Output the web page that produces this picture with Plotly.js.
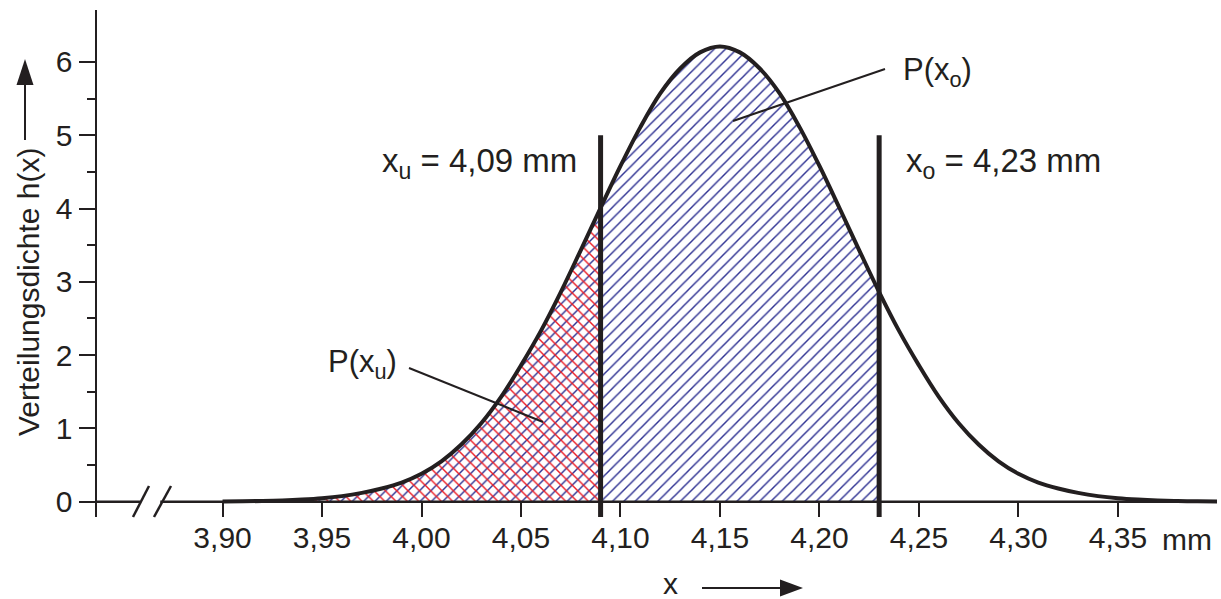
<!DOCTYPE html>
<html><head><meta charset="utf-8">
<script src="https://cdn.plot.ly/plotly-3.0.1.min.js"></script>
<style>html,body{margin:0;padding:0;background:#fff}#chart{width:1221px;height:599px}</style>
</head><body><div id="chart"></div>
<script>
// ---- data ----
const xValues = [3.90,3.91,3.92,3.93,3.94,3.95,3.96,3.97,3.98,3.99,
  4.00,4.01,4.02,4.03,4.04,4.05,4.06,4.07,4.08,4.09,
  4.10,4.11,4.12,4.13,4.14,4.15,4.16,4.17,4.18,4.19,
  4.20,4.21,4.22,4.23,4.24,4.25,4.26,4.27,4.28,4.29,
  4.30,4.31,4.32,4.33,4.34,4.35,4.36,4.37,4.38,4.39,4.40];
const hValues = [0.003,0.005,0.010,0.017,0.029,0.047,0.076,0.12,0.18,0.26,
  0.38,0.55,0.78,1.07,1.43,1.86,2.33,2.86,3.43,4.01,
  4.58,5.11,5.57,5.91,6.13,6.21,6.13,5.91,5.57,5.11,
  4.58,4.01,3.43,2.86,2.33,1.86,1.43,1.07,0.78,0.55,
  0.38,0.26,0.18,0.12,0.076,0.047,0.029,0.017,0.010,0.005,0.003];
const xTickVals = [3.90,3.95,4.00,4.05,4.10,4.15,4.20,4.25,4.30,4.35];
const xTickText = ['3,90','3,95','4,00','4,05','4,10','4,15','4,20','4,25','4,30','4,35'];
const yTickVals = [0,1,2,3,4,5,6];
const yTickText = ['0','1','2','3','4','5','6'];
const yMinorVals = [0.5,1.5,2.5,3.5,4.5,5.5];
const xLower = 4.09;   // x_u
const xUpper = 4.23;   // x_o
const limitTop = 5;
const labelLower = 'x<sub>u</sub> = 4,09 mm';
const labelUpper = 'x<sub>o</sub> = 4,23 mm';
const labelPLower = 'P(x<sub>u</sub>)';
const labelPUpper = 'P(x<sub>o</sub>)';
const xTitle = 'x';
const yTitle = 'Verteilungsdichte h(x)';
const xUnit = 'mm';

// ---- layout helpers ----
const INK = '#231f20';
const FONT = 'Arial, "Liberation Sans", sans-serif';
const L = 97, R = 4, T = 10, B = 82, W = 1221, H = 599;
const PW = W - L - R, PH = H - T - B;
const X = p => (p - L) / PW;
const Y = p => (H - B - p) / PH;
const xRange = [3.8369, 4.3998];
const yRange = [-0.2087, 6.708];

const lowX = [], lowY = [], upX = [], upY = [];
xValues.forEach((x, i) => {
  if (x <= xLower + 1e-9) { lowX.push(x); lowY.push(hValues[i]); }
  if (x <= xUpper + 1e-9) { upX.push(x); upY.push(hValues[i]); }
});

const traces = [
  { x: upX, y: upY, type: 'scatter', mode: 'lines', fill: 'tozeroy',
    line: { width: 0, shape: 'spline', smoothing: 1, simplify: false, color: 'rgba(0,0,0,0)' },
    fillcolor: 'rgba(0,0,0,0)',
    fillpattern: { shape: '/', fgcolor: '#2e3192', bgcolor: 'rgba(0,0,0,0)', size: 8, solidity: 0.18 },
    hoverinfo: 'skip' },
  { x: lowX, y: lowY, type: 'scatter', mode: 'lines', fill: 'tozeroy',
    line: { width: 0, shape: 'spline', smoothing: 1, simplify: false, color: 'rgba(0,0,0,0)' },
    fillcolor: 'rgba(0,0,0,0)',
    fillpattern: { shape: '\\', fgcolor: '#ed1c24', bgcolor: 'rgba(0,0,0,0)', size: 8, solidity: 0.18 },
    hoverinfo: 'skip' },
  { x: xValues, y: hValues, type: 'scatter', mode: 'lines',
    line: { color: INK, width: 4, shape: 'spline', smoothing: 1, simplify: false }, hoverinfo: 'skip' },
  { x: [xLower, xLower], y: [yRange[0], limitTop], type: 'scatter', mode: 'lines',
    line: { color: INK, width: 5 }, hoverinfo: 'skip' },
  { x: [xUpper, xUpper], y: [yRange[0], limitTop], type: 'scatter', mode: 'lines',
    line: { color: INK, width: 5 }, hoverinfo: 'skip' }
];

const lineShape = (x0, y0, x1, y1, w) => ({ type: 'line', xref: 'paper', yref: 'paper',
  x0: X(x0), y0: Y(y0), x1: X(x1), y1: Y(y1), line: { color: INK, width: w } });
const triShape = pts => ({ type: 'path', xref: 'paper', yref: 'paper',
  path: 'M' + pts.map(p => X(p[0]) + ',' + Y(p[1])).join('L') + 'Z',
  fillcolor: INK, line: { width: 0 } });

const shapes = [
  // x axis line at h = 0 with break
  { type: 'line', xref: 'x', yref: 'y', x0: xRange[0], x1: 3.8585, y0: 0, y1: 0, line: { color: INK, width: 2.5 } },
  { type: 'line', xref: 'x', yref: 'y', x0: 3.8687, x1: xRange[1], y0: 0, y1: 0, line: { color: INK, width: 2.5 } },
  lineShape(133, 517, 149, 486, 2.5),
  lineShape(154, 517, 171, 486, 2.5),
  // leader lines
  lineShape(885, 69, 733, 121, 2),
  lineShape(409, 368, 543, 422, 2),
  // y title arrow
  lineShape(25, 140, 25, 82, 2),
  triShape([[25, 59], [16.5, 85], [33.5, 85]]),
  // x title arrow
  lineShape(702, 588, 782, 588, 2),
  triShape([[803, 588], [780, 579.5], [780, 596.5]])
];

const ann = (text, px, py, xa, size, extra) => Object.assign({ text, xref: 'paper', yref: 'paper',
  x: X(px), y: Y(py), xanchor: xa, yanchor: 'middle', showarrow: false,
  font: { family: FONT, size: size, color: INK } }, extra || {});

const annotations = [
  ann(labelLower, 579, 163, 'right', 33),
  ann(labelUpper, 904, 163, 'left', 33),
  ann(labelPUpper, 901, 72, 'left', 31),
  ann(labelPLower, 399, 364, 'right', 31),
  ann(xUnit, 1187, 539, 'center', 30),
  ann(xTitle, 670, 583, 'center', 30),
  ann(yTitle, 28, 292, 'center', 30, { textangle: -90 })
];

const layout = {
  width: W, height: H,
  margin: { l: L, r: R, t: T, b: B, pad: 0 },
  paper_bgcolor: '#fff', plot_bgcolor: '#fff',
  showlegend: false,
  font: { family: FONT, size: 30, color: INK },
  xaxis: {
    range: xRange, showgrid: false, zeroline: false, showline: false,
    tickmode: 'array', tickvals: xTickVals, ticktext: xTickText,
    ticks: 'inside', ticklen: 16, tickwidth: 2, tickcolor: INK,
    tickfont: { family: FONT, size: 30, color: INK }
  },
  yaxis: {
    range: yRange, showgrid: false, zeroline: false,
    showline: true, linewidth: 2.5, linecolor: INK,
    tickmode: 'array', tickvals: yTickVals, ticktext: yTickText,
    ticks: 'outside', ticklen: 16, tickwidth: 2, tickcolor: INK,
    tickfont: { family: FONT, size: 30, color: INK },
    minor: { tickmode: 'array', tickvals: yMinorVals, ticks: 'outside', ticklen: 8, tickwidth: 2, tickcolor: INK, showgrid: false }
  },
  shapes, annotations
};

Plotly.newPlot('chart', traces, layout, { staticPlot: true, displayModeBar: false });
</script>
</body></html>
